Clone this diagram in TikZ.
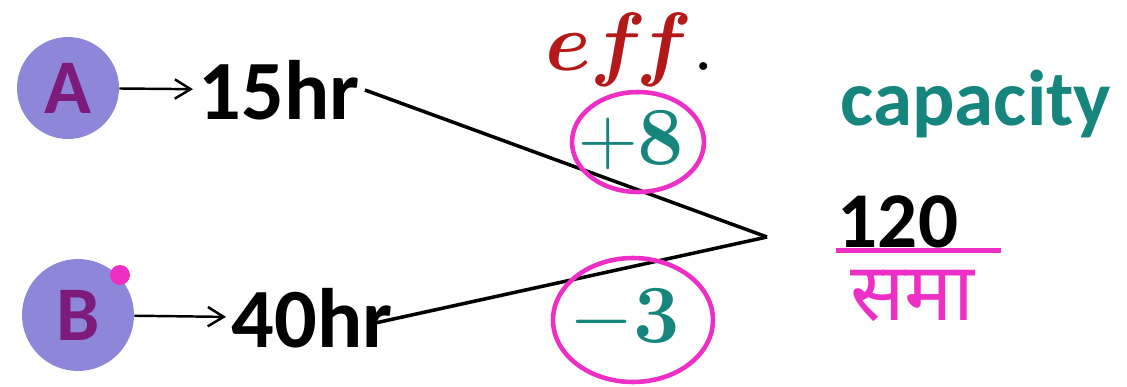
\RequirePackage{fix-cm}
\documentclass[tikz,border=0pt]{standalone}
\usepackage{amsmath,amssymb}
\usepackage[no-math]{fontspec}
\setmainfont{Carlito}
\newfontfamily\hindifont[Script=Devanagari]{Noto Sans}
\usetikzlibrary{arrows.meta,positioning,shapes.geometric}
\definecolor{lavender}{HTML}{8E87D9}
\definecolor{plum}{HTML}{7D1B7B}
\definecolor{tealtext}{HTML}{15857D}
\definecolor{handpink}{HTML}{EE2FC6}
\definecolor{effred}{HTML}{B31919}
\tikzset{
  worker/.style={circle, fill=lavender, minimum size=2.04cm, inner sep=0pt,
    text=plum, font=\fontsize{44}{44}\selectfont\bfseries},
  hours/.style={font=\fontsize{48}{48}\selectfont\bfseries, inner sep=3pt},
  num/.style={text=tealtext, font=\fontsize{47}{47}\selectfont, inner sep=0pt},
  ring/.style={draw=handpink, line width=2.6pt},
  arr/.style={-{Straight Barb[length=9pt, width=11pt]}, line width=1.4pt},
  link/.style={line width=2pt},
}

\begin{document}
\begin{tikzpicture}[x=0.02cm, y=-0.02cm]
  \useasboundingbox (0,0) rectangle (1127,386);

  % Workers
  \node[worker] (A) at (68,88) {A};
  \node[worker, minimum size=2.24cm] (B) at (78,315) {B};
  \node[circle, fill=handpink, inner sep=0pt, minimum size=0.4cm] (Bdot) at (120,275) {};

  % Hours
  \node[hours, anchor=west] (h15) at (193,90) {15hr};
  \node[hours, anchor=west] (h40) at (226,318) {40hr};
  \draw[arr] (A) -- (h15);
  \draw[arr] (B) -- (h40);

  % Lines to the capacity
  \coordinate (vtx) at (767,237);
  \draw[link] (h15.east) -- (vtx);
  \draw[link, shorten >=-16pt] (vtx) -- (h40.east);

  % Efficiencies
  \node (eff) at (630,50) {\fontsize{47}{47}\selectfont
    $\textcolor{effred}{\boldsymbol{ef\mkern-2mu f}}.$};
  \node[num] (p8) at (631,141) {$+\mathbf{8}$};
  \node[num] (m3) at (625,319) {$-\mathbf{3}$};
  \draw[ring] (638,142) ellipse [x radius=1.32cm, y radius=1cm];
  \draw[ring] (633,320) ellipse [x radius=1.6cm, y radius=1.24cm];

  % Capacity
  \node[text=tealtext, font=\fontsize{45}{45}\selectfont\bfseries] (cap) at (976,104) {capacity};
  \node[font=\fontsize{45}{45}\selectfont\bfseries, inner sep=1pt] (c120) at (898,222) {120};
  \draw[handpink, line width=2.6pt] (c120.south west) -- ++(165,0);
  \node[text=handpink, font=\fontsize{46}{46}\selectfont\hindifont] (sama) at (912,296) {समा};
\end{tikzpicture}
\end{document}
